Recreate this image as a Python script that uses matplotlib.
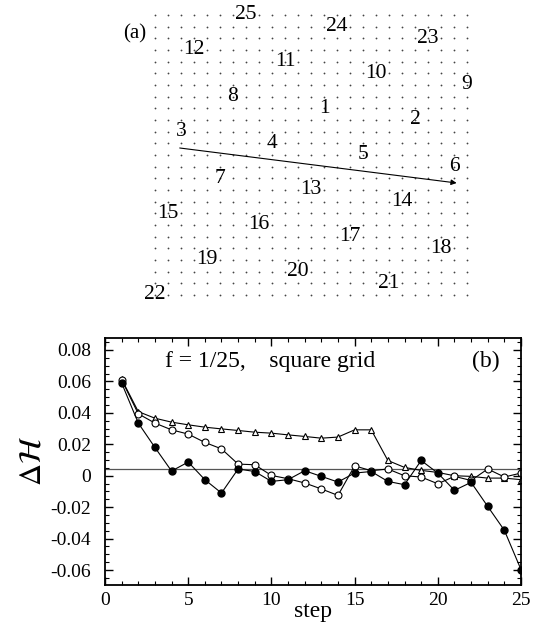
import matplotlib
matplotlib.use("Agg")
import matplotlib.pyplot as plt
from matplotlib.ticker import MultipleLocator

plt.rcParams["font.family"] = ["Liberation Serif", "DejaVu Serif"]
plt.rcParams["mathtext.fontset"] = "stix"

# panel (a): 25x25 lattice, labelled sites (column, row from top)
grid_n = 25
site_labels = [25, 24, 23, 12, 11, 10, 9, 8, 1, 2, 3, 4, 5,
               6, 7, 13, 14, 15, 16, 17, 18, 19, 20, 21, 22]
site_cols = [7, 14, 21, 3, 10, 17, 24, 6, 13, 20, 2, 9, 16,
             23, 5, 12, 19, 1, 8, 15, 22, 4, 11, 18, 0]
site_rows = [0, 1, 2, 3, 4, 5, 6, 7, 8, 9, 10, 11, 12,
             13, 14, 15, 16, 17, 18, 19, 20, 21, 22, 23, 24]
arrow_start = (1.9, 11.4)
arrow_end = (23.2, 14.4)

# panel (b): Delta H vs step
steps = list(range(1, 26))
filled = [0.059, 0.0335, 0.018, 0.003, 0.0087, -0.0025, -0.011, 0.0043, 0.0027,
          -0.0036, -0.0025, 0.0032, -0.0004, -0.004, 0.0017, 0.0027, -0.0036,
          -0.0057, 0.0097, 0.0017, -0.0093, -0.0042, -0.0195, -0.0347, -0.0597]
open_circ = [0.061, 0.0394, 0.0335, 0.0292, 0.0265, 0.0212, 0.0171, 0.0074, 0.007,
             0.0002, -0.0019, -0.0046, -0.0084, -0.0125, 0.0063, 0.0032, 0.0043,
             0.0, -0.0008, -0.0051, -0.0004, -0.003, 0.0043, -0.0008, 0.0017]
triangles = [0.0614, 0.0408, 0.0366, 0.0341, 0.0324, 0.0309, 0.0298, 0.0288, 0.0277,
             0.0271, 0.026, 0.025, 0.0239, 0.0246, 0.0292, 0.0292, 0.0097, 0.0053,
             0.0034, 0.0021, 0.0, -0.0004, -0.0015, -0.0015, -0.0025]
ref_level = 0.0045

fig = plt.figure(figsize=(5.36, 6.26), dpi=100)

# ---- (a) ----
ax_a = fig.add_axes([0.1922, 0.5008, 0.7519, 0.4939])
gx = [c for c in range(grid_n) for r in range(grid_n)]
gy = [r for c in range(grid_n) for r in range(grid_n)]
ax_a.plot(gx, gy, ls="none", marker="o", ms=1.3, mec="none", mfc="#444444")
for lab, c, r in zip(site_labels, site_cols, site_rows):
    ax_a.text(c, r, str(lab), ha="center", va="center", fontsize=15.5)
ax_a.annotate("", xy=arrow_end, xytext=arrow_start,
              arrowprops=dict(arrowstyle="-|>", lw=0.8, color="black",
                              mutation_scale=8, shrinkA=0, shrinkB=0))
ax_a.text(-1.55, 1.6, "(a)", ha="center", va="center", fontsize=15)
ax_a.set_xlim(-4, 27)
ax_a.set_ylim(25.5, -1)
ax_a.axis("off")

# ---- (b) ----
ax = fig.add_axes([0.1959, 0.0655, 0.7761, 0.3945])
ax.axhline(ref_level, color="#555555", lw=0.9, zorder=1)
ax.plot(steps, triangles, color="black", lw=0.8, marker="^", ms=5,
        mfc="white", mec="black", mew=0.8)
ax.plot(steps, open_circ, color="black", lw=0.8, marker="o", ms=5,
        mfc="white", mec="black", mew=0.8)
ax.plot(steps, filled, color="black", lw=0.8, marker="o", ms=5,
        mfc="black", mec="black")

ax.set_xlim(0, 25)
ax.set_ylim(-0.0695, 0.0876)
ax.xaxis.set_major_locator(MultipleLocator(5))
ax.xaxis.set_minor_locator(MultipleLocator(1))
ax.yaxis.set_minor_locator(MultipleLocator(0.005))
ax.set_yticks([-0.06, -0.04, -0.02, 0, 0.02, 0.04, 0.06, 0.08])
ax.set_yticklabels(["-0.06", "-0.04", "-0.02", "0", "0.02", "0.04", "0.06", "0.08"])
ax.tick_params(which="both", direction="in", top=True, right=True, labelsize=14)
ax.tick_params(which="major", length=6, width=1)
ax.tick_params(which="minor", length=3, width=0.8)
ax.tick_params(axis="y", pad=10)
ax.tick_params(axis="x", pad=5)
for sp in ax.spines.values():
    sp.set_linewidth(1.3)

ax.text(3.6, 0.0726, "f = 1/25,    square grid", ha="left", va="center", fontsize=17)
ax.text(22.9, 0.0726, "(b)", ha="center", va="center", fontsize=17)
ax.set_xlabel("step", fontsize=17, labelpad=-6)
ax.set_ylabel(r"$\Delta\mathcal{H}$", fontsize=22, labelpad=2)

fig.savefig("out.png", dpi=100)
